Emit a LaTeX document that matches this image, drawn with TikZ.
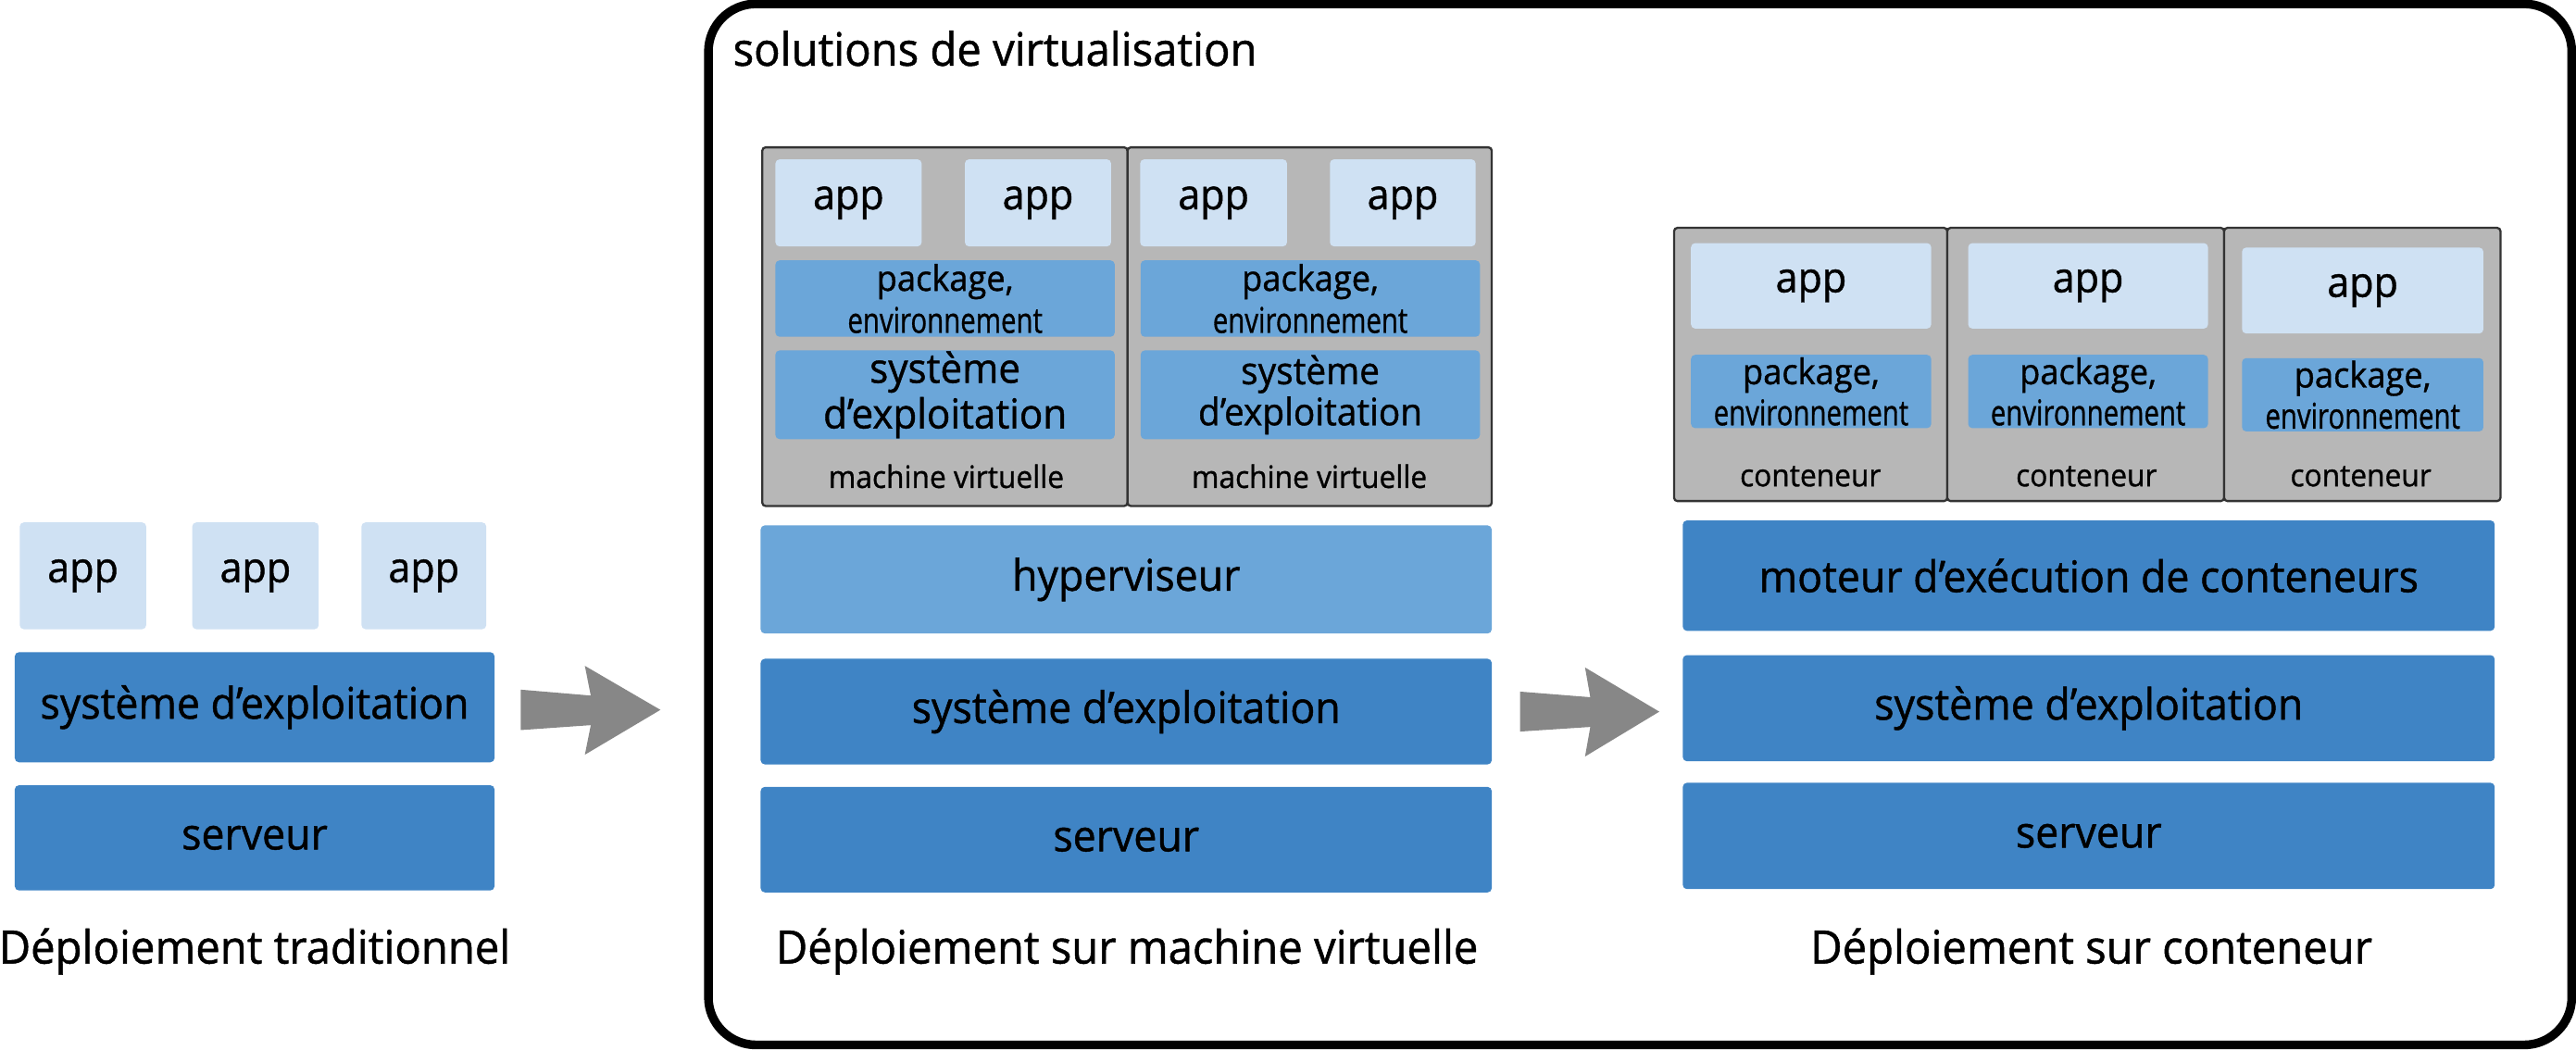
\documentclass[tikz,border=0pt]{standalone}
\usepackage{fontspec}
\usepackage{graphicx}
\setmainfont[FakeStretch=0.95,FakeBold=1]{Open Sans}
\definecolor{darkblue}{HTML}{3F84C5}
\definecolor{midblue}{HTML}{6BA6D9}
\definecolor{lightapp}{HTML}{CFE1F3}
\definecolor{vmgray}{HTML}{B7B7B7}
\definecolor{arrowgray}{HTML}{878787}
\newcommand\bx[7]{\node[#1, minimum width={#5-#3}, minimum height={#6-#4}] (#2) at ({(#3+#5)/2},{(#4+#6)/2}) {#7};}
\newcommand\envtxt{\scalebox{0.81}[1]{environnement}}
\tikzset{
  blk/.style={rectangle, rounded corners=2.5pt, inner sep=0pt, align=center, text=black},
  appbox/.style={blk, fill=lightapp, font=\fontsize{25.5}{28}\selectfont},
  layer/.style={blk, fill=darkblue, font=\fontsize{26.5}{30}\selectfont},
  hyper/.style={blk, fill=midblue, font=\fontsize{26.5}{30}\selectfont},
  pkg/.style={blk, fill=midblue, font=\fontsize{21.5}{25.6}\selectfont},
  osvma/.style={blk, fill=midblue, font=\fontsize{25}{27.7}\selectfont},
  osvmb/.style={blk, fill=midblue, font=\fontsize{23}{25}\selectfont},
  cpkg/.style={blk, fill=midblue, font=\fontsize{21.5}{25}\selectfont},
  shell/.style={rectangle, rounded corners=2pt, fill=vmgray, draw=black!80, line width=1.3pt, inner sep=0pt},
  small/.style={inner sep=0pt, anchor=base, font=\fontsize{18.8}{22}\selectfont},
  caption/.style={inner sep=0pt, anchor=base, font=\fontsize{28}{32}\selectfont},
  bigarrow/.style={fill=arrowgray},
}
\begin{document}
\begin{tikzpicture}[x=1pt,y=-1pt]
\useasboundingbox (0,0) rectangle (1568,639.1);
% frame
\node[draw=black, line width=5.3pt, rounded corners=29pt, minimum width=1134.2, minimum height=633.7, inner sep=0pt] (frame) at (998.3,319.2) {};
\node[inner sep=0pt, anchor=base west, font=\fontsize{28}{32}\selectfont] (title) at (446,40) {solutions de virtualisation};
% traditional
\bx{appbox}{ta1}{12}{318}{89}{383}{app}
\bx{appbox}{ta2}{117}{318}{194}{383}{app}
\bx{appbox}{ta3}{220}{318}{296}{383}{app}
\bx{layer}{tos}{9}{397}{301}{464}{système d’exploitation}
\bx{layer}{tsrv}{9}{478}{301}{542}{serveur}
\node[caption] (tcap) at (155,586.5) {Déploiement traditionnel};
% arrows
\fill[bigarrow] (317,419.8) -- (359.6,423.4) -- (356,405.3) -- (402,432.1) -- (356,459.4) -- (359.6,441.4) -- (317,444.4) -- cycle;
\fill[bigarrow] (925.3,421) -- (968,424.4) -- (964.8,406.3) -- (1010,433.2) -- (964.8,460.5) -- (968,442.5) -- (925.3,445.3) -- cycle;
% VMs
\bx{shell}{vm1}{464}{89.7}{686.3}{308}{}
\bx{shell}{vm2}{686.3}{89.7}{908}{308}{}
\bx{appbox}{va1}{472}{97}{561}{150}{app}
\bx{appbox}{va2}{587.3}{97}{676.3}{150}{app}
\bx{appbox}{va3}{694}{97}{783.4}{150}{app}
\bx{appbox}{va4}{809.5}{97}{898.2}{150}{app}
\bx{pkg}{vp1}{472}{158.5}{678.5}{205}{package,\\\envtxt}
\bx{pkg}{vp2}{694.3}{158.5}{900.8}{205}{package,\\\envtxt}
\bx{osvma}{vo1}{472}{213.3}{678.5}{267.3}{système\\d’exploitation}
\bx{osvmb}{vo2}{694.3}{213.3}{900.8}{267.3}{système\\d’exploitation}
\node[small] (vl1) at (576,297) {machine virtuelle};
\node[small] (vl2) at (797,297) {machine virtuelle};
\bx{hyper}{hyp}{463}{319.8}{908}{385.6}{hyperviseur}
\bx{layer}{vos}{463}{401}{908}{465.3}{système d’exploitation}
\bx{layer}{vsrv}{463}{479}{908}{543.2}{serveur}
\node[caption] (vcap) at (686,586.5) {Déploiement sur machine virtuelle};
% containers
\bx{shell}{c1}{1019}{138.7}{1185.3}{305}{}
\bx{shell}{c2}{1185.3}{138.7}{1353.8}{305}{}
\bx{shell}{c3}{1353.8}{138.7}{1522}{305}{}
\bx{appbox}{ca1}{1029.3}{148}{1175.5}{200}{app}
\bx{appbox}{ca2}{1198}{148}{1344}{200}{app}
\bx{appbox}{ca3}{1364.7}{150.7}{1511.6}{203}{app}
\bx{cpkg}{cp1}{1029.3}{216}{1175.5}{260.6}{package,\\\envtxt}
\bx{cpkg}{cp2}{1198}{216}{1344}{260.6}{package,\\\envtxt}
\bx{cpkg}{cp3}{1364.7}{218}{1511.6}{262.6}{package,\\\envtxt}
\node[small] (cl1) at (1102,296) {conteneur};
\node[small] (cl2) at (1270,296) {conteneur};
\node[small] (cl3) at (1437,296) {conteneur};
\bx{layer}{mot}{1024.3}{316.8}{1518.5}{384}{moteur d’exécution de conteneurs}
\bx{layer}{cos}{1024.3}{398.8}{1518.5}{463.4}{système d’exploitation}
\bx{layer}{csrv}{1024.3}{476.5}{1518.5}{541.2}{serveur}
\node[caption] (ccap) at (1273,586.5) {Déploiement sur conteneur};
\end{tikzpicture}
\end{document}
